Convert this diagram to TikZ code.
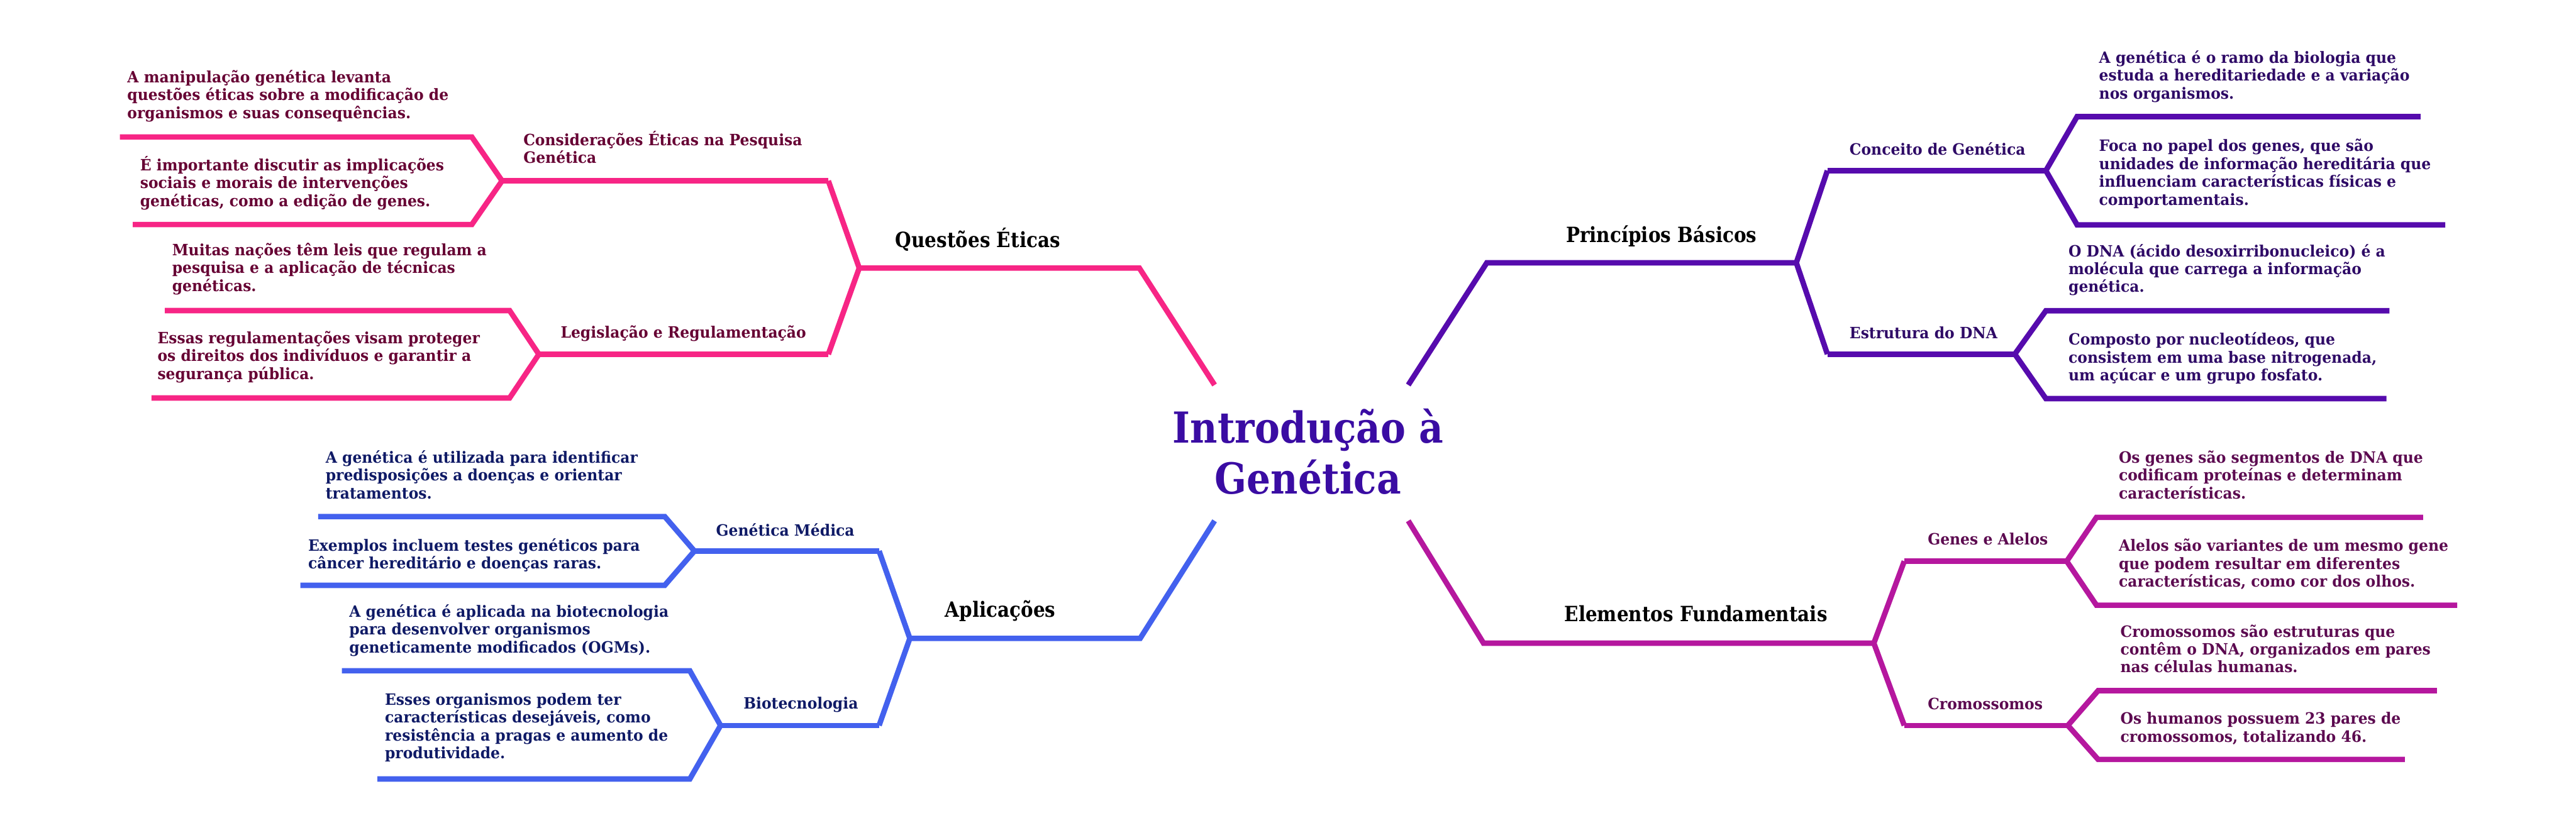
\documentclass[tikz,border=0pt]{standalone}
\usepackage{fontspec}
\usepackage{xcolor}
\usepackage{tikz}
\newfontfamily\slab[FakeStretch=0.88]{DejaVu Serif}
\newfontfamily\slabtext[FakeStretch=0.945]{DejaVu Serif}

\definecolor{qpink}{HTML}{F72585}
\definecolor{qpinktxt}{HTML}{660033}
\definecolor{ppurple}{HTML}{560BAD}
\definecolor{ppurpletxt}{HTML}{2E0A66}
\definecolor{ablue}{HTML}{4361EE}
\definecolor{abluetxt}{HTML}{0F1A66}
\definecolor{emag}{HTML}{B5179E}
\definecolor{emagtxt}{HTML}{5C0A50}
\definecolor{titlecol}{HTML}{3A0CA3}

\begin{document}
\begin{tikzpicture}[
    x=1pt, y=-1pt,
    branch/.style={line width=3.3pt, line join=miter},
    leaf/.style={anchor=base west, align=left, inner sep=0pt, font=\slabtext\bfseries\fontsize{9.5}{10.9}\selectfont},
    topic/.style={anchor=base west, inner sep=0pt, font=\slab\bfseries\fontsize{12.8}{15}\selectfont},
    hub/.style={anchor=base, align=center, inner sep=0pt, text=titlecol, font=\slab\bfseries\fontsize{26}{31.2}\selectfont},
]
\useasboundingbox (0,0) rectangle (1568,501);

% Center (multi-line nodes sit on the baseline of their last line)
\node (hub) [hub] at (796.2,300.8) {Introdução à\\Genética};
\coordinate (hub-nw) at (739.3,234.4);
\coordinate (hub-ne) at (857.2,234.4);
\coordinate (hub-sw) at (739.3,317.1);
\coordinate (hub-se) at (857.2,317.1);

% Questoes Eticas
\node (qe) [topic] at (544.9,150.6) {Questões Éticas};
\node (cons) [leaf, text=qpinktxt] at (318.4,99.4) {Considerações Éticas na Pesquisa\\Genética};
\node (cons1) [leaf, text=qpinktxt] at (77.3,72.1) {A manipulação genética levanta\\questões éticas sobre a modificação de\\organismos e suas consequências.};
\node (cons2) [leaf, text=qpinktxt] at (85.1,125.7) {É importante discutir as implicações\\sociais e morais de intervenções\\genéticas, como a edição de genes.};
\node (leg) [leaf, text=qpinktxt] at (341.1,205.8) {Legislação e Regulamentação};
\node (leg1) [leaf, text=qpinktxt] at (104.6,177.4) {Muitas nações têm leis que regulam a\\pesquisa e a aplicação de técnicas\\genéticas.};
\node (leg2) [leaf, text=qpinktxt] at (95.7,231.0) {Essas regulamentações visam proteger\\os direitos dos indivíduos e garantir a\\segurança pública.};
\coordinate (qe-c) at (693.5,163.2);
\coordinate (qe-m) at (523.0,163.2);
\coordinate (qe-t) at (504.2,110.1);
\coordinate (qe-b) at (504.2,215.7);
\coordinate (cons-f) at (305.6,110.1);
\coordinate (cons-u) at (287.2,83.4);
\coordinate (cons-u0) at (73.0,83.4);
\coordinate (cons-l) at (287.2,136.7);
\coordinate (cons-l0) at (80.8,136.7);
\coordinate (leg-f) at (328.0,215.7);
\coordinate (leg-u) at (310.2,189.1);
\coordinate (leg-u0) at (100.3,189.1);
\coordinate (leg-l) at (310.2,242.3);
\coordinate (leg-l0) at (92.2,242.3);
\draw [branch, qpink] (hub-nw) -- (qe-c) -- (qe-m);
\draw [branch, qpink] (qe-t) -- (qe-m) -- (qe-b);
\draw [branch, qpink] (qe-t) -- (cons-f);
\draw [branch, qpink] (cons-u0) -- (cons-u) -- (cons-f) -- (cons-l) -- (cons-l0);
\draw [branch, qpink] (qe-b) -- (leg-f);
\draw [branch, qpink] (leg-u0) -- (leg-u) -- (leg-f) -- (leg-l) -- (leg-l0);

% Principios Basicos
\node (pb) [topic] at (953.0,147.7) {Princípios Básicos};
\node (conc) [leaf, text=ppurpletxt] at (1125.6,94.3) {Conceito de Genética};
\node (conc1) [leaf, text=ppurpletxt] at (1277.5,60.1) {A genética é o ramo da biologia que\\estuda a hereditariedade e a variação\\nos organismos.};
\node (conc2) [leaf, text=ppurpletxt] at (1277.5,124.8) {Foca no papel dos genes, que são\\unidades de informação hereditária que\\influenciam características físicas e\\comportamentais.};
\node (dna) [leaf, text=ppurpletxt] at (1125.6,206.3) {Estrutura do DNA};
\node (dna1) [leaf, text=ppurpletxt] at (1258.9,178.0) {O DNA (ácido desoxirribonucleico) é a\\molécula que carrega a informação\\genética.};
\node (dna2) [leaf, text=ppurpletxt] at (1258.9,231.8) {Composto por nucleotídeos, que\\consistem em uma base nitrogenada,\\um açúcar e um grupo fosfato.};
\coordinate (pb-c) at (905.0,160.0);
\coordinate (pb-m) at (1093.4,160.0);
\coordinate (pb-t) at (1112.3,103.9);
\coordinate (pb-b) at (1112.3,215.6);
\coordinate (conc-f) at (1245.3,103.9);
\coordinate (conc-u) at (1264.3,71.0);
\coordinate (conc-u0) at (1473.4,71.0);
\coordinate (conc-l) at (1264.3,136.9);
\coordinate (conc-l0) at (1488.4,136.9);
\coordinate (dna-f) at (1226.4,215.6);
\coordinate (dna-u) at (1245.3,189.2);
\coordinate (dna-u0) at (1454.4,189.2);
\coordinate (dna-l) at (1245.3,242.7);
\coordinate (dna-l0) at (1452.6,242.7);
\draw [branch, ppurple] (hub-ne) -- (pb-c) -- (pb-m);
\draw [branch, ppurple] (pb-t) -- (pb-m) -- (pb-b);
\draw [branch, ppurple] (pb-t) -- (conc-f);
\draw [branch, ppurple] (conc-u0) -- (conc-u) -- (conc-f) -- (conc-l) -- (conc-l0);
\draw [branch, ppurple] (pb-b) -- (dna-f);
\draw [branch, ppurple] (dna-u0) -- (dna-u) -- (dna-f) -- (dna-l) -- (dna-l0);

% Aplicacoes
\node (ap) [topic] at (575.1,375.8) {Aplicações};
\node (med) [leaf, text=abluetxt] at (435.7,326.2) {Genética Médica};
\node (med1) [leaf, text=abluetxt] at (198.0,303.7) {A genética é utilizada para identificar\\predisposições a doenças e orientar\\tratamentos.};
\node (med2) [leaf, text=abluetxt] at (187.4,346.3) {Exemplos incluem testes genéticos para\\câncer hereditário e doenças raras.};
\node (bio) [leaf, text=abluetxt] at (452.4,431.7) {Biotecnologia};
\node (bio1) [leaf, text=abluetxt] at (212.4,397.5) {A genética é aplicada na biotecnologia\\para desenvolver organismos\\geneticamente modificados (OGMs).};
\node (bio2) [leaf, text=abluetxt] at (234.1,461.9) {Esses organismos podem ter\\características desejáveis, como\\resistência a pragas e aumento de\\produtividade.};
\coordinate (ap-c) at (694.0,388.7);
\coordinate (ap-m) at (553.8,388.7);
\coordinate (ap-t) at (535.1,335.5);
\coordinate (ap-b) at (535.1,441.7);
\coordinate (med-f) at (422.7,335.5);
\coordinate (med-u) at (404.6,314.5);
\coordinate (med-u0) at (193.7,314.5);
\coordinate (med-l) at (404.6,356.4);
\coordinate (med-l0) at (182.8,356.4);
\coordinate (bio-f) at (438.6,441.7);
\coordinate (bio-u) at (419.9,408.4);
\coordinate (bio-u0) at (208.1,408.4);
\coordinate (bio-l) at (419.9,474.3);
\coordinate (bio-l0) at (229.7,474.3);
\draw [branch, ablue] (hub-sw) -- (ap-c) -- (ap-m);
\draw [branch, ablue] (ap-t) -- (ap-m) -- (ap-b);
\draw [branch, ablue] (ap-t) -- (med-f);
\draw [branch, ablue] (med-u0) -- (med-u) -- (med-f) -- (med-l) -- (med-l0);
\draw [branch, ablue] (ap-b) -- (bio-f);
\draw [branch, ablue] (bio-u0) -- (bio-u) -- (bio-f) -- (bio-l) -- (bio-l0);

% Elementos Fundamentais
\node (ef) [topic] at (952.1,378.5) {Elementos Fundamentais};
\node (gen) [leaf, text=emagtxt] at (1173.2,331.6) {Genes e Alelos};
\node (gen1) [leaf, text=emagtxt] at (1289.5,303.7) {Os genes são segmentos de DNA que\\codificam proteínas e determinam\\características.};
\node (gen2) [leaf, text=emagtxt] at (1289.5,357.5) {Alelos são variantes de um mesmo gene\\que podem resultar em diferentes\\características, como cor dos olhos.};
\node (cro) [leaf, text=emagtxt] at (1173.2,432.0) {Cromossomos};
\node (cro1) [leaf, text=emagtxt] at (1290.5,409.6) {Cromossomos são estruturas que\\contêm o DNA, organizados em pares\\nas células humanas.};
\node (cro2) [leaf, text=emagtxt] at (1290.5,451.8) {Os humanos possuem 23 pares de\\cromossomos, totalizando 46.};
\coordinate (ef-c) at (903.0,391.6);
\coordinate (ef-m) at (1140.6,391.6);
\coordinate (ef-t) at (1159.1,341.7);
\coordinate (ef-b) at (1159.1,441.7);
\coordinate (gen-f) at (1258.0,341.7);
\coordinate (gen-u) at (1276.1,315.0);
\coordinate (gen-u0) at (1474.9,315.0);
\coordinate (gen-l) at (1276.1,368.5);
\coordinate (gen-l0) at (1495.7,368.5);
\coordinate (cro-f) at (1258.7,441.7);
\coordinate (cro-u) at (1277.1,420.5);
\coordinate (cro-u0) at (1483.3,420.5);
\coordinate (cro-l) at (1277.1,462.4);
\coordinate (cro-l0) at (1463.8,462.4);
\draw [branch, emag] (hub-se) -- (ef-c) -- (ef-m);
\draw [branch, emag] (ef-t) -- (ef-m) -- (ef-b);
\draw [branch, emag] (ef-t) -- (gen-f);
\draw [branch, emag] (gen-u0) -- (gen-u) -- (gen-f) -- (gen-l) -- (gen-l0);
\draw [branch, emag] (ef-b) -- (cro-f);
\draw [branch, emag] (cro-u0) -- (cro-u) -- (cro-f) -- (cro-l) -- (cro-l0);

\end{tikzpicture}
\end{document}
